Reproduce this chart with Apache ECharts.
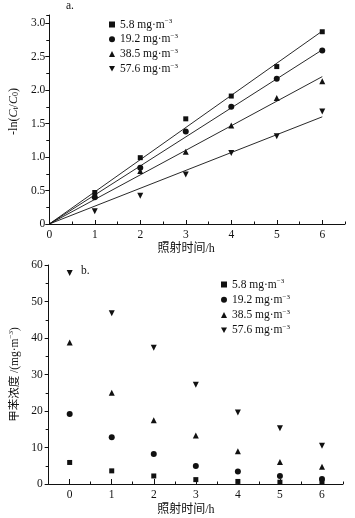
<!DOCTYPE html>
<html>
<head>
<meta charset="utf-8">
<script src="https://cdn.jsdelivr.net/npm/echarts@6/dist/echarts.min.js"></script>
<style>html,body{margin:0;padding:0;background:#fff}#c{width:355px;height:518px}</style>
</head>
<body>
<div id="c"></div>
<script>
// ---- data ----
const seriesNames = ['5.8 mg·m-3', '19.2 mg·m-3', '38.5 mg·m-3', '57.6 mg·m-3'];
const legendNums = ['5.8', '19.2', '38.5', '57.6'];
// panel a: -ln(Ct/C0) vs time
const timeA = [1, 2, 3, 4, 5, 6];
const lnA1 = [0.47, 0.99, 1.57, 1.91, 2.35, 2.87];
const lnA2 = [0.40, 0.84, 1.38, 1.75, 2.17, 2.59];
const lnA3 = [0.43, 0.79, 1.08, 1.47, 1.88, 2.13];
const lnA4 = [0.19, 0.42, 0.74, 1.06, 1.31, 1.68];
// fitted lines through origin
const fitX = [0, 6];
const fit1 = [0, 2.88];
const fit2 = [0, 2.60];
const fit3 = [0, 2.20];
const fit4 = [0, 1.60];
// panel b: toluene concentration vs time
const timeB = [0, 1, 2, 3, 4, 5, 6];
const concB1 = [5.9, 3.6, 2.2, 1.2, 0.7, 0.5, 0.6];
const concB2 = [19.2, 12.8, 8.2, 4.9, 3.4, 2.2, 1.4];
const concB3 = [38.8, 25.0, 17.5, 13.3, 9.0, 6.0, 4.7];
const concB4 = [57.8, 46.8, 37.3, 27.2, 19.6, 15.3, 10.5];
// ticks
const xTicksMajor = [0, 1, 2, 3, 4, 5, 6];
const xTicksMinorA = [0.5, 1.5, 2.5, 3.5, 4.5, 5.5, 6.5];
const xTicksMinorB = [-0.5, 0.5, 1.5, 2.5, 3.5, 4.5, 5.5, 6.5];
const yTicksA = [0, 0.5, 1.0, 1.5, 2.0, 2.5, 3.0];
const yTicksMinorA = [0.25, 0.75, 1.25, 1.75, 2.25, 2.75, 3.12];

const FONT = '"Liberation Serif", "Times New Roman", "Noto Sans CJK SC", serif';
const CJK = '"Liberation Serif", "Noto Sans CJK SC", serif';
const BLACK = '#111';
const symbols = ['rect', 'circle', 'triangle', 'path://M0,0 L10,0 L5,9 Z'];
const sizes = [5, 6, 6, 6];

function zip(xs, ys) { return xs.map((x, i) => [x, ys[i]]); }

const chart = echarts.init(document.getElementById('c'), null, {renderer: 'canvas'});

const axisLineStyle = {show: true, onZero: false, lineStyle: {color: BLACK, width: 1}};
const labelStyle = {color: BLACK, fontFamily: FONT, fontSize: 11.5};

const xAxes = [
  {gridIndex: 0, type: 'value', min: 0, max: 6.5, position: 'bottom',
   axisLine: axisLineStyle,
   axisTick: {show: true, inside: true, length: 4, customValues: xTicksMajor, lineStyle: {color: BLACK}},
   axisLabel: Object.assign({customValues: xTicksMajor, margin: 5}, labelStyle),
   splitLine: {show: false},
   name: '照射时间/h', nameLocation: 'middle', nameGap: 19,
   nameTextStyle: {color: BLACK, fontFamily: CJK, fontSize: 12, padding: [0, 22, 0, 0]}},
  {gridIndex: 0, type: 'value', min: 0, max: 6.5, position: 'bottom',
   axisLine: {show: false, onZero: false},
   axisTick: {show: true, inside: true, length: 2.5, customValues: xTicksMinorA, lineStyle: {color: BLACK}},
   axisLabel: {show: false}, splitLine: {show: false}},
  {gridIndex: 1, type: 'value', min: -0.5, max: 6.5, position: 'bottom',
   axisLine: axisLineStyle,
   axisTick: {show: true, inside: true, length: 5, customValues: xTicksMajor, lineStyle: {color: BLACK}},
   axisLabel: Object.assign({customValues: xTicksMajor, margin: 5}, labelStyle),
   splitLine: {show: false},
   name: '照射时间/h', nameLocation: 'middle', nameGap: 20,
   nameTextStyle: {color: BLACK, fontFamily: CJK, fontSize: 12, padding: [0, 20, 0, 0]}},
  {gridIndex: 1, type: 'value', min: -0.5, max: 6.5, position: 'bottom',
   axisLine: {show: false, onZero: false},
   axisTick: {show: true, inside: true, length: 2.5, customValues: xTicksMinorB, lineStyle: {color: BLACK}},
   axisLabel: {show: false}, splitLine: {show: false}}
];

const yAxes = [
  {gridIndex: 0, type: 'value', min: 0, max: 3.12, position: 'left',
   axisLine: axisLineStyle,
   axisTick: {show: true, inside: false, length: 4, customValues: yTicksA, lineStyle: {color: BLACK}},
   axisLabel: Object.assign({customValues: yTicksA, margin: 4,
     formatter: v => v === 0 ? '0' : v.toFixed(1)}, labelStyle),
   splitLine: {show: false},
   name: '{n|-ln(}{i|C}{s|t}{n|/}{i|C}{s|0}{n|)}', nameLocation: 'middle', nameGap: 24,
   nameTextStyle: {color: BLACK, padding: [0, 0, 0, 16], rich: {
     n: {fontFamily: FONT, fontSize: 12, color: BLACK},
     i: {fontFamily: FONT, fontSize: 12, fontStyle: 'italic', color: BLACK},
     s: {fontFamily: FONT, fontSize: 8, color: BLACK, padding: [4, 0, 0, 0]}
   }}},
  {gridIndex: 0, type: 'value', min: 0, max: 3.12, position: 'left',
   axisLine: {show: false, onZero: false},
   axisTick: {show: true, inside: false, length: 3, customValues: yTicksMinorA, lineStyle: {color: BLACK}},
   axisLabel: {show: false}, splitLine: {show: false}},
  {gridIndex: 1, type: 'value', min: 0, max: 60, interval: 10, position: 'left',
   axisLine: axisLineStyle,
   axisTick: {show: true, inside: false, length: 4, lineStyle: {color: BLACK}},
   minorTick: {show: true, splitNumber: 2, length: 3, lineStyle: {color: BLACK}},
   axisLabel: Object.assign({margin: 6}, labelStyle),
   splitLine: {show: false},
   name: '{c|甲苯浓度 /(mg·m}{s|−3}{c|)}', nameLocation: 'middle', nameGap: 26,
   nameTextStyle: {color: BLACK, rich: {
     c: {fontFamily: CJK, fontSize: 11.5, color: BLACK},
     s: {fontFamily: FONT, fontSize: 7, color: BLACK, padding: [0, 0, 6, 0]}
   }}}
];

const lnData = [lnA1, lnA2, lnA3, lnA4];
const fitData = [fit1, fit2, fit3, fit4];
const concData = [concB1, concB2, concB3, concB4];

const series = [];
for (let k = 0; k < 4; k++) {
  series.push({
    name: 'fit' + k, type: 'line', xAxisIndex: 0, yAxisIndex: 0,
    data: zip(fitX, fitData[k]), showSymbol: false, symbol: 'none',
    lineStyle: {color: BLACK, width: 0.9}, silent: true, z: 1
  });
}
for (let k = 0; k < 4; k++) {
  series.push({
    name: seriesNames[k], type: 'scatter', xAxisIndex: 0, yAxisIndex: 0,
    data: zip(timeA, lnData[k]), symbol: symbols[k], symbolSize: sizes[k],
    itemStyle: {color: BLACK, opacity: 1}, z: 3
  });
}
for (let k = 0; k < 4; k++) {
  series.push({
    name: seriesNames[k], type: 'scatter', xAxisIndex: 2, yAxisIndex: 2,
    data: zip(timeB, concData[k]), symbol: symbols[k], symbolSize: sizes[k],
    itemStyle: {color: BLACK, opacity: 1}, z: 3
  });
}

const legendRich = {
  a: {fontFamily: FONT, fontSize: 11.5, color: BLACK},
  s: {fontFamily: FONT, fontSize: 7, color: BLACK, padding: [0, 0, 6, 0]}
};
function legendFmt(name) {
  const i = seriesNames.indexOf(name);
  return '{a|' + legendNums[i] + ' mg·m}{s|−3}';
}
function makeLegend(left, top, gap) {
  return {
    left: left, top: top, orient: 'vertical', data: seriesNames,
    itemWidth: 6, itemHeight: 6, itemGap: gap, selectedMode: false,
    formatter: legendFmt,
    itemStyle: {opacity: 1},
    textStyle: {rich: legendRich, color: BLACK}
  };
}

chart.setOption({
  animation: false,
  backgroundColor: '#fff',
  grid: [
    {left: 48, top: 15, width: 297, height: 209},
    {left: 46, top: 265, width: 297, height: 219}
  ],
  title: [
    {text: 'a.', left: 66, top: 0, padding: 0, textStyle: {fontFamily: FONT, fontSize: 11.5, fontWeight: 'normal', color: BLACK}},
    {text: 'b.', left: 81, top: 265, padding: 0, textStyle: {fontFamily: FONT, fontSize: 11.5, fontWeight: 'normal', color: BLACK}}
  ],
  legend: [makeLegend(104, 13, 2.5), makeLegend(216, 273, 3)],
  xAxis: xAxes,
  yAxis: yAxes,
  series: series
});
</script>
</body>
</html>
